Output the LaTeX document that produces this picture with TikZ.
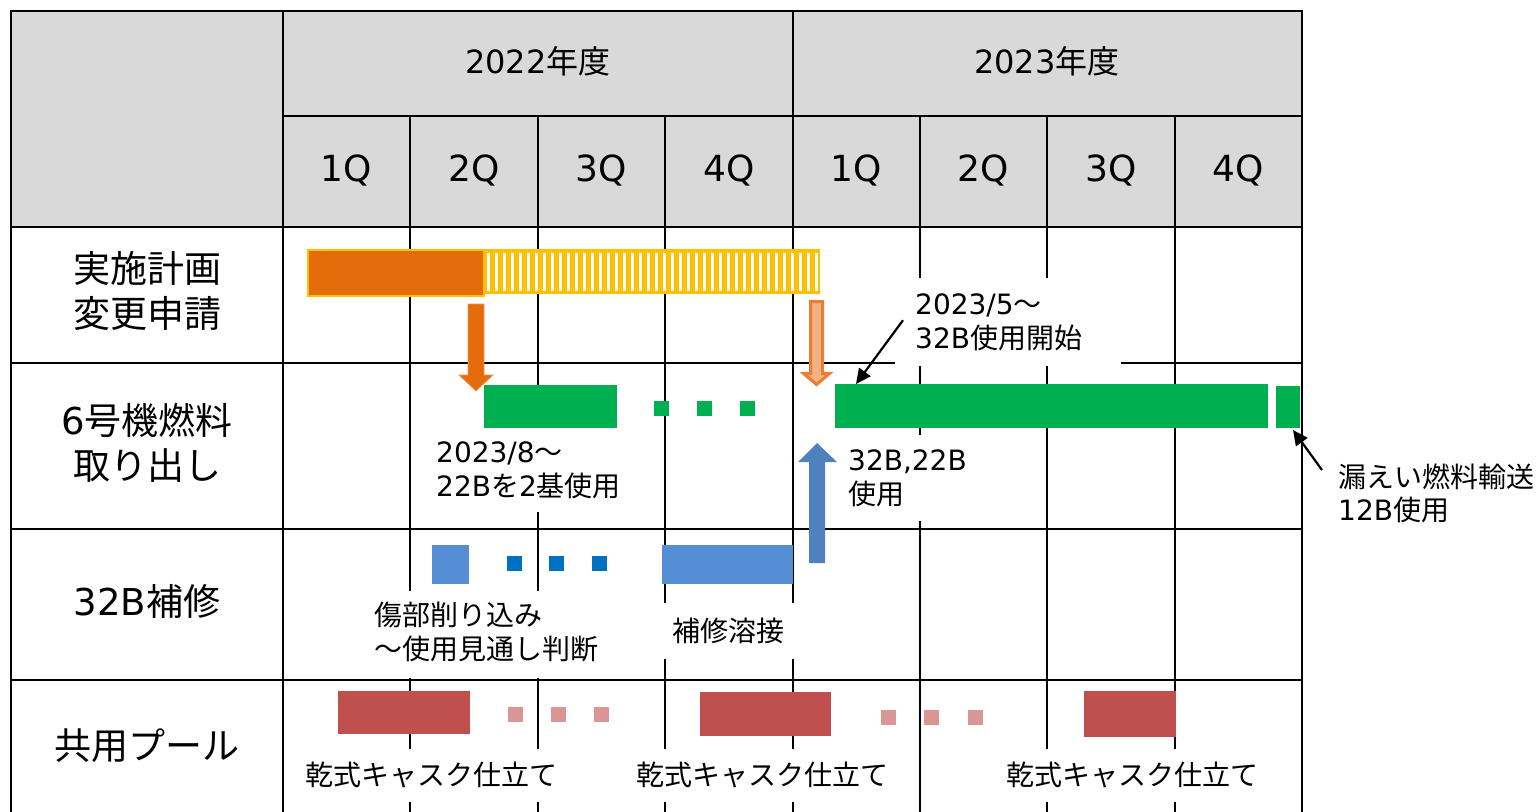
\documentclass[tikz,border=0pt]{standalone}
\usepackage{fontspec}
\setmainfont{Noto Sans CJK JP}
\newfontfamily\lat{DejaVu Sans}
\newcommand{\LT}[1]{{\lat #1}}
\usetikzlibrary{arrows.meta}
\definecolor{hdr}{HTML}{D9D9D9}
\definecolor{orng}{HTML}{E46C0A}
\definecolor{ylw}{HTML}{FFC000}
\definecolor{lorng}{HTML}{F4B183}
\definecolor{dorng}{HTML}{ED7D31}
\definecolor{grn}{HTML}{00B050}
\definecolor{bbar}{HTML}{558ED5}
\definecolor{bsq}{HTML}{0070C0}
\definecolor{barrow}{HTML}{4F81BD}
\definecolor{rbar}{HTML}{C0504D}
\definecolor{pnk}{HTML}{DA9694}
\tikzset{
  grid/.style={line width=2.8pt, black, line cap=rect},
  rowlbl/.style={font=\fontsize{37}{45}\selectfont, align=center, inner sep=0pt},
  yearlbl/.style={font=\fontsize{32}{38}\selectfont, inner sep=0pt},
  qlbl/.style={font=\fontsize{36}{40}\selectfont, inner sep=0pt},
  wbox/.style={fill=white, font=\fontsize{28}{34}\selectfont, align=left, inner ysep=0pt, anchor=north west},
  cbox/.style={fill=white, font=\fontsize{28}{34}\selectfont, align=center, inner sep=0pt},
  note/.style={font=\fontsize{28}{33}\selectfont, align=left, inner sep=0pt, anchor=west},
  ptr/.style={line width=2.2pt, -{Triangle[length=15pt,width=14pt]}},
}
\begin{document}
\begin{tikzpicture}[x=1pt,y=-1pt]
\useasboundingbox (0,0) rectangle (1539,811);
% header background
\fill[hdr] (11,11) rectangle (1302,227);
% grid
\draw[grid] (11,11) -- (1302,11);
\draw[grid] (283,116) -- (1302,116);
\foreach \yy in {227,363,529,680} {\draw[grid] (11,\yy) -- (1302,\yy);}
\foreach \xx in {11,283,793,1302} {\draw[grid] (\xx,11) -- (\xx,811);}
\foreach \xx in {410,538,665,920,1047,1175} {\draw[grid] (\xx,116) -- (\xx,811);}
% header texts
\node[yearlbl] (y22) at (538,61) {\LT{2022}年度};
\node[yearlbl] (y23) at (1047,61) {\LT{2023}年度};
\foreach \q/\xx/\nm in {1/346.5/q1,2/474/q2,3/601.5/q3,4/729/q4,1/856.5/q5,2/983.5/q6,3/1111/q7,4/1238.5/q8}
  {\node[qlbl] (\nm) at (\xx,170) {\LT{\q Q}};}
% row labels
\node[rowlbl] (r1) at (147,291) {実施計画\\変更申請};
\node[rowlbl] (r2) at (147,443) {\LT{6}号機燃料\\取り出し};
\node[rowlbl] (r3) at (147,601) {\LT{32B}補修};
\node[rowlbl] (r4) at (147,746) {共用プール};
% white text boxes (cover grid lines)
\node[wbox, minimum height=88pt, inner xsep=20pt, text width=186pt] (l5) at (895,278) {\LT{2023/5}〜\\\LT{32B}使用開始};
\node[wbox, minimum height=84pt, inner xsep=11pt, text width=190pt] (l8) at (425,428) {\LT{2023/8}〜\\\LT{22B}を\LT{2}基使用};
\node[wbox, minimum height=86pt, inner xsep=8pt, text width=126pt] (l32) at (840,435) {\LT{32B,22B}\\使用};
\node[wbox, minimum height=82pt, inner xsep=9pt, text width=228pt] (lk) at (365,591) {傷部削り込み\\〜使用見通し判断};
\fill[white] (365,673) rectangle (605,678);
\node[cbox, minimum width=145pt, minimum height=56pt] (lh) at (728,631) {補修溶接};
\node[cbox, minimum width=267pt, minimum height=53pt] (lc1) at (431,775) {乾式キャスク仕立て};
\node[cbox, minimum width=265pt, minimum height=53pt] (lc2) at (762,775) {乾式キャスク仕立て};
\node[cbox, minimum width=265pt, minimum height=53pt] (lc3) at (1132,775) {乾式キャスク仕立て};
\node[note] (l12) at (1338,493) {漏えい燃料輸送\\\LT{12B}使用};
% row 1 bars
\fill[ylw] (484,250) rectangle (819,293);
\foreach \i in {0,...,41} {\fill[white] ({487+8*\i},252.5) rectangle ++(3,38.5);}
\draw[ylw, line width=1.5pt] (484,250) rectangle (819,293);
\filldraw[fill=orng, draw=ylw, line width=1.5pt] (308,250) rectangle (484,296);
% row 2 bars
\fill[grn] (484,385) rectangle (617,428);
\foreach \xx in {654,697,740} {\fill[grn] (\xx,401) rectangle ++(15,15);}
\fill[grn] (835,384) rectangle (1268,428);
\fill[grn] (1276,386) rectangle (1300,428);
\coordinate (g2tip) at (856,384);
\coordinate (g3tip) at (1293,430);
% row 3 bars
\fill[bbar] (432,545) rectangle (469,584);
\foreach \xx in {507,549,592} {\fill[bsq] (\xx,556) rectangle ++(15,15);}
\fill[bbar] (662,545) rectangle (793,584);
% row 4 bars
\fill[rbar] (338,691) rectangle (470,734);
\fill[rbar] (700,692) rectangle (831,736);
\fill[rbar] (1084,691) rectangle (1176,737);
\foreach \xx in {508,551,594} {\fill[pnk] (\xx,707) rectangle ++(15,15);}
\foreach \xx in {881,924,968} {\fill[pnk] (\xx,710) rectangle ++(15,15);}
% block arrows
\filldraw[fill=orng, draw=orng!70!white, line width=0.8pt] (468,304) -- (484,304) -- (484,375) -- (493,375) -- (476,391) -- (459,375) -- (468,375) -- cycle;
\filldraw[fill=lorng, draw=dorng, line width=3pt, line join=miter] (810.5,301.5) -- (822.5,301.5) -- (822.5,373.5) -- (829.5,373.5) -- (816.5,384.5) -- (803.5,373.5) -- (810.5,373.5) -- cycle;
\fill[barrow] (809,563) -- (825,563) -- (825,462) -- (837,462) -- (817,443) -- (798,462) -- (809,462) -- cycle;
% pointer arrows
\draw[ptr] ([xshift=8pt,yshift=2pt]l5.west) -- (g2tip);
\draw[ptr] ([xshift=-16pt,yshift=23pt]l12.west) -- (g3tip);
\end{tikzpicture}
\end{document}
